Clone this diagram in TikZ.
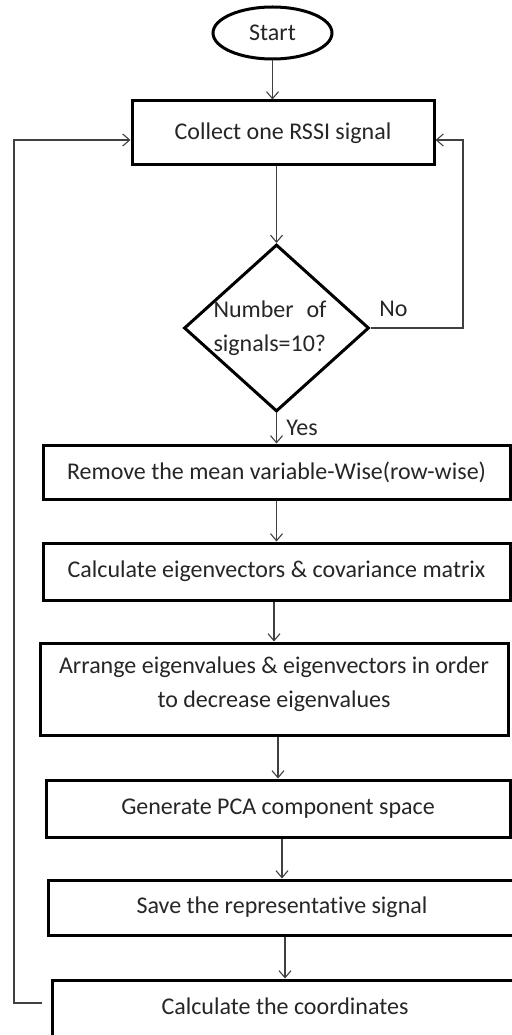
\documentclass[tikz,border=0pt]{standalone}
\usepackage{fontspec}
\setmainfont{Carlito}[Ligatures=NoCommon]
\usetikzlibrary{arrows.meta,shapes.geometric,calc}
\begin{document}
\begin{tikzpicture}[x=1pt,y=-1pt,
  every node/.style={font=\fontsize{24}{34}\selectfont, text=black!85},
  proc/.style={draw=black, line width=3pt, fill=white, inner sep=0pt, rectangle},
  term/.style={draw=black, line width=3pt, fill=white, ellipse, inner sep=0pt},
  decision/.style={draw=black, line width=3pt, fill=white, diamond, inner sep=0pt},
  flow/.style={draw=black!75, line width=1.1pt, -{Straight Barb[length=7pt,width=12pt]}}]
\useasboundingbox (0,0) rectangle (511,1035);

% terminal and input step
\node[term, minimum width=119pt, minimum height=52pt] (start) at (272.5,33) {Start};
\node[proc, minimum width=302pt, minimum height=64pt] (collect) at (283,133) {Collect one RSSI signal};

% decision
\node[decision, minimum width=185pt, minimum height=167pt] (dec) at (276.5,328) {};
\node[text width=113pt, align=left, inner sep=0pt] (dect) at (270,328) {Number\hfill of\\signals=10?};
\node[inner sep=0pt] (no) at (393.5,309) {No};
\node[inner sep=0pt] (yes) at (302,428) {Yes};

% processing steps
\node[proc, minimum width=467pt, minimum height=54pt] (remove) at (276.5,472) {Remove the mean variable-Wise(row-wise)};
\node[proc, minimum width=467pt, minimum height=57pt] (eig) at (276.5,571.5) {Calculate eigenvectors \& covariance matrix};
\node[proc, minimum width=468pt, minimum height=92pt] (arrange) at (274,689) {};
\node[align=center, inner sep=0pt] (arranget) at (274,684) {Arrange eigenvalues \& eigenvectors in order\\to decrease eigenvalues};
\node[proc, minimum width=464pt, minimum height=57pt] (pca) at (278,808.5) {Generate PCA component space};
\node[proc, minimum width=468pt, minimum height=55pt] (save) at (282,907.5) {Save the representative signal};
\node[proc, minimum width=466pt, minimum height=60pt] (coords) at (285,1010) {};
\node[inner sep=0pt] (coordst) at (285,1006) {Calculate the coordinates};

% main flow
\draw[flow] (start.south) -- (start.south |- collect.north);
\draw[flow] (dec.north |- collect.south) -- (dec.north);
\draw[flow] (dec.south) -- (dec.south |- remove.north);
\draw[flow] (remove.south) -- (remove.south |- eig.north);
\draw[flow] (eig.south -| arrange.north) -- (arrange.north);
\draw[flow] (pca.north |- arrange.south) -- (pca.north);
\draw[flow] (save.north |- pca.south) -- (save.north);
\draw[flow] (coords.north |- save.south) -- (coords.north);

% loops back to the collection step
\coordinate (lft) at (14,1003);
\coordinate (rgt) at (463,140);
\draw[flow] ([xshift=-9pt,yshift=7pt]coords.west) -- (lft) |- ([yshift=-7pt]collect.west);
\draw[flow] (dec.east) -| (rgt) -- ([yshift=-7pt]collect.east);
\end{tikzpicture}
\end{document}
